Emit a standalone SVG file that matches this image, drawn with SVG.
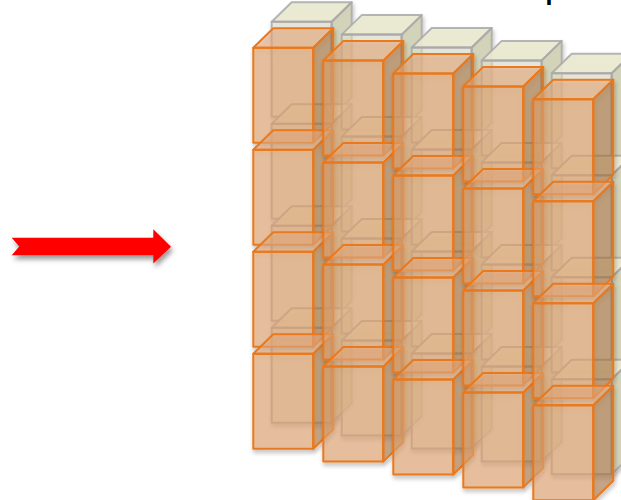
<svg xmlns="http://www.w3.org/2000/svg" xmlns:xlink="http://www.w3.org/1999/xlink" width="621" height="500" viewBox="0 0 621 500">
  <style>
    .bk-front { fill: #ecebd6; fill-opacity: 0.45; }
    .bk-top { fill: #ebead0; fill-opacity: 0.9; }
    .bk-side { fill: #d0d1b0; fill-opacity: 0.8; }
    .bk-edge { fill: none; stroke: #a9a9a9; stroke-width: 2; stroke-linejoin: round; stroke-opacity: 0.85; }
    .or-front { fill: #e4a673; fill-opacity: 0.6; }
    .or-top { fill: #e8ad7e; fill-opacity: 0.58; }
    .or-side { fill: #ab7240; fill-opacity: 0.55; }
    .or-edge { fill: none; stroke: #ea781a; stroke-width: 2; stroke-linejoin: round; }
    .label { font-family: "Liberation Sans", Arial, sans-serif; font-size: 40px; fill: #000000; }
  </style>
  <defs>
    <filter id="shadow" x="-20%" y="-20%" width="150%" height="150%">
      <feDropShadow dx="1" dy="3" stdDeviation="2.2" flood-color="#000000" flood-opacity="0.3"/>
    </filter>
    <filter id="arrowShadow" x="-10%" y="-40%" width="120%" height="190%">
      <feDropShadow dx="2" dy="4" stdDeviation="2.5" flood-color="#000000" flood-opacity="0.4"/>
    </filter>
    <!-- back (beige) cube, origin at the front face's top-left corner -->
    <g id="cubeBack">
      <rect class="bk-front" x="0" y="0" width="60" height="95"/>
      <polygon class="bk-top" points="0,0 20,-19.5 80,-19.5 60,0"/>
      <polygon class="bk-side" points="60,0 80,-19.5 80,75.5 60,95"/>
      <rect class="bk-edge" x="0" y="0" width="60" height="95"/>
      <polygon class="bk-edge" points="0,0 20,-19.5 80,-19.5 60,0"/>
      <polygon class="bk-edge" points="60,0 80,-19.5 80,75.5 60,95"/>
    </g>
    <!-- front (orange) cube -->
    <g id="cubeFront">
      <rect class="or-front" x="0" y="0" width="60" height="95"/>
      <polygon class="or-top" points="0,0 20,-19.5 80,-19.5 60,0"/>
      <polygon class="or-side" points="60,0 80,-19.5 80,75.5 60,95"/>
      <rect class="or-edge" x="0" y="0" width="60" height="95"/>
      <polygon class="or-edge" points="0,0 20,-19.5 80,-19.5 60,0"/>
      <polygon class="or-edge" points="60,0 80,-19.5 80,75.5 60,95"/>
    </g>
  </defs>

  <rect x="0" y="0" width="621" height="500" fill="#ffffff"/>

  <!-- partial caption running off the top edge -->
  <text class="label" x="544.4" y="-3.4">p</text>

  <!-- back layer: 5 columns x 4 rows -->
  <g id="back-layer" filter="url(#shadow)">
    <g id="b-c1-r1" transform="translate(271.7,21.7)"><use xlink:href="#cubeBack"/></g>
    <g id="b-c1-r2" transform="translate(271.7,123.7)"><use xlink:href="#cubeBack"/></g>
    <g id="b-c1-r3" transform="translate(271.7,225.7)"><use xlink:href="#cubeBack"/></g>
    <g id="b-c1-r4" transform="translate(271.7,327.7)"><use xlink:href="#cubeBack"/></g>
    <g id="b-c2-r1" transform="translate(341.7,34.6)"><use xlink:href="#cubeBack"/></g>
    <g id="b-c2-r2" transform="translate(341.7,136.6)"><use xlink:href="#cubeBack"/></g>
    <g id="b-c2-r3" transform="translate(341.7,238.6)"><use xlink:href="#cubeBack"/></g>
    <g id="b-c2-r4" transform="translate(341.7,340.6)"><use xlink:href="#cubeBack"/></g>
    <g id="b-c3-r1" transform="translate(411.7,47.5)"><use xlink:href="#cubeBack"/></g>
    <g id="b-c3-r2" transform="translate(411.7,149.5)"><use xlink:href="#cubeBack"/></g>
    <g id="b-c3-r3" transform="translate(411.7,251.5)"><use xlink:href="#cubeBack"/></g>
    <g id="b-c3-r4" transform="translate(411.7,353.5)"><use xlink:href="#cubeBack"/></g>
    <g id="b-c4-r1" transform="translate(481.7,60.4)"><use xlink:href="#cubeBack"/></g>
    <g id="b-c4-r2" transform="translate(481.7,162.4)"><use xlink:href="#cubeBack"/></g>
    <g id="b-c4-r3" transform="translate(481.7,264.4)"><use xlink:href="#cubeBack"/></g>
    <g id="b-c4-r4" transform="translate(481.7,366.4)"><use xlink:href="#cubeBack"/></g>
    <g id="b-c5-r1" transform="translate(551.7,73.3)"><use xlink:href="#cubeBack"/></g>
    <g id="b-c5-r2" transform="translate(551.7,175.3)"><use xlink:href="#cubeBack"/></g>
    <g id="b-c5-r3" transform="translate(551.7,277.3)"><use xlink:href="#cubeBack"/></g>
    <g id="b-c5-r4" transform="translate(551.7,379.3)"><use xlink:href="#cubeBack"/></g>
  </g>

  <!-- front layer: 5 columns x 4 rows -->
  <g id="front-layer">
    <g id="f-c1-r1" filter="url(#shadow)" transform="translate(253.3,47.7)"><use xlink:href="#cubeFront"/></g>
    <g id="f-c1-r2" filter="url(#shadow)" transform="translate(253.3,149.7)"><use xlink:href="#cubeFront"/></g>
    <g id="f-c1-r3" filter="url(#shadow)" transform="translate(253.3,251.7)"><use xlink:href="#cubeFront"/></g>
    <g id="f-c1-r4" filter="url(#shadow)" transform="translate(253.3,353.7)"><use xlink:href="#cubeFront"/></g>
    <g id="f-c2-r1" filter="url(#shadow)" transform="translate(323.3,60.6)"><use xlink:href="#cubeFront"/></g>
    <g id="f-c2-r2" filter="url(#shadow)" transform="translate(323.3,162.6)"><use xlink:href="#cubeFront"/></g>
    <g id="f-c2-r3" filter="url(#shadow)" transform="translate(323.3,264.6)"><use xlink:href="#cubeFront"/></g>
    <g id="f-c2-r4" filter="url(#shadow)" transform="translate(323.3,366.6)"><use xlink:href="#cubeFront"/></g>
    <g id="f-c3-r1" filter="url(#shadow)" transform="translate(393.3,73.5)"><use xlink:href="#cubeFront"/></g>
    <g id="f-c3-r2" filter="url(#shadow)" transform="translate(393.3,175.5)"><use xlink:href="#cubeFront"/></g>
    <g id="f-c3-r3" filter="url(#shadow)" transform="translate(393.3,277.5)"><use xlink:href="#cubeFront"/></g>
    <g id="f-c3-r4" filter="url(#shadow)" transform="translate(393.3,379.5)"><use xlink:href="#cubeFront"/></g>
    <g id="f-c4-r1" filter="url(#shadow)" transform="translate(463.3,86.4)"><use xlink:href="#cubeFront"/></g>
    <g id="f-c4-r2" filter="url(#shadow)" transform="translate(463.3,188.4)"><use xlink:href="#cubeFront"/></g>
    <g id="f-c4-r3" filter="url(#shadow)" transform="translate(463.3,290.4)"><use xlink:href="#cubeFront"/></g>
    <g id="f-c4-r4" filter="url(#shadow)" transform="translate(463.3,392.4)"><use xlink:href="#cubeFront"/></g>
    <g id="f-c5-r1" filter="url(#shadow)" transform="translate(533.3,99.3)"><use xlink:href="#cubeFront"/></g>
    <g id="f-c5-r2" filter="url(#shadow)" transform="translate(533.3,201.3)"><use xlink:href="#cubeFront"/></g>
    <g id="f-c5-r3" filter="url(#shadow)" transform="translate(533.3,303.3)"><use xlink:href="#cubeFront"/></g>
    <g id="f-c5-r4" filter="url(#shadow)" transform="translate(533.3,405.3)"><use xlink:href="#cubeFront"/></g>
  </g>

  <!-- red block arrow -->
  <g id="connectors">
    <polygon id="arrow" filter="url(#arrowShadow)" fill="#ff0000"
             points="11.7,237.7 153.3,237.7 153.3,229.3 171,246.7 153.3,263.5 153.3,255.3 11.7,255.3 19.2,246.5"/>
  </g>
</svg>
